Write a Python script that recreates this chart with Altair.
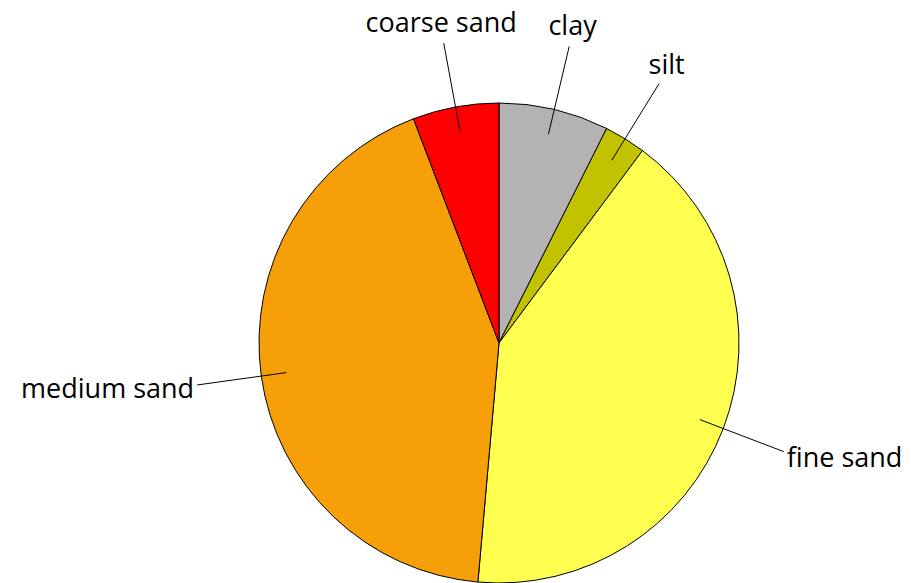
import math
import altair as alt
import pandas as pd

# data
categories = ["clay", "silt", "fine sand", "medium sand", "coarse sand"]
percent = [7.4, 2.8, 41.2, 42.8, 5.8]
colors = ["#b3b3b3", "#c2c200", "#ffff50", "#f79f08", "#ff0000"]

# layout
PAD_TOP = 8
W, H = 895, 567
CX, CY, R = 491, 335 - PAD_TOP, 240
LINE_IN, LINE_OUT, LABEL_R = 0.895, 1.27, 1.33

total = sum(percent)
rows = []
cum = 0.0
for i, (c, v) in enumerate(zip(categories, percent)):
    mid = (cum + v / 2) / total * 2 * math.pi
    cum += v
    s, co = math.sin(mid), math.cos(mid)
    if abs(s) < 0.6:
        align, base = "center", "alphabetic"
        lx, ly = LABEL_R * s, LABEL_R * co
    else:
        align, base = ("left" if s > 0 else "right"), "middle"
        lx, ly = LINE_OUT * s, LINE_OUT * co
    rows.append(dict(idx=i, category=c, value=v,
                     x1=LINE_IN * s, y1=LINE_IN * co,
                     x2=LINE_OUT * s, y2=LINE_OUT * co,
                     lx=lx, ly=ly, align=align, base=base))
df = pd.DataFrame(rows)

xs = alt.Scale(domain=[-CX / R, (W - CX) / R], range=[0, W])
ys = alt.Scale(domain=[-(H - CY) / R, CY / R], range=[H, 0])

pie = alt.Chart(df).mark_arc(outerRadius=R, stroke="black", strokeWidth=1).encode(
    theta=alt.Theta("value:Q", stack=True),
    order=alt.Order("idx:Q"),
    color=alt.Color("category:N", scale=alt.Scale(domain=categories, range=colors), legend=None),
    x=alt.value(CX), y=alt.value(CY),
)

lines = alt.Chart(df).mark_rule(color="black", strokeWidth=1).encode(
    x=alt.X("x1:Q", scale=xs, axis=None),
    y=alt.Y("y1:Q", scale=ys, axis=None),
    x2="x2:Q", y2="y2:Q",
)

offsets = {"center": (0, 3), "left": (3, 7), "right": (-3, 5)}
layers = [pie, lines]
for a in ["center", "left", "right"]:
    sub = df[df["align"] == a]
    if len(sub) == 0:
        continue
    dx, dy = offsets[a]
    layers.append(
        alt.Chart(sub).mark_text(font="Open Sans", fontSize=27, color="black",
                                 align=a, baseline=sub["base"].iloc[0],
                                 dx=dx, dy=dy).encode(
            x=alt.X("lx:Q", scale=xs, axis=None),
            y=alt.Y("ly:Q", scale=ys, axis=None),
            text="category:N",
        )
    )

chart = alt.layer(*layers).properties(
    width=W, height=H,
    padding={"top": PAD_TOP, "left": 0, "right": 0, "bottom": 0},
    autosize=alt.AutoSizeParams(type="none"),
).configure_view(stroke=None)

chart.save("out.html", embed_options={"renderer": "svg", "actions": False})
